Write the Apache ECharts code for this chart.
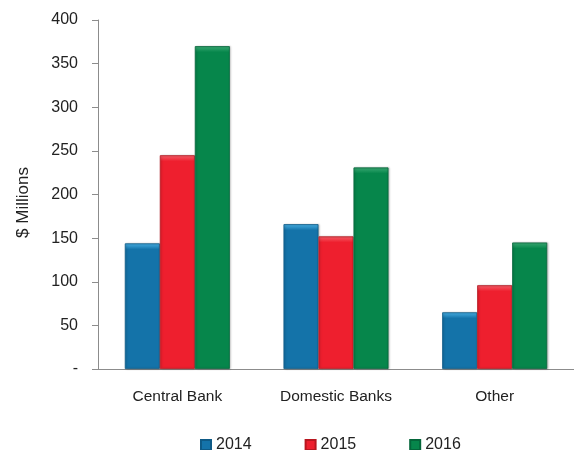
<!DOCTYPE html>
<html>
<head>
<meta charset="utf-8">
<script src="https://cdn.jsdelivr.net/npm/echarts@6/dist/echarts.min.js"></script>
<style>html,body{margin:0;padding:0;background:#fff}#c{width:574px;height:450px}</style>
</head>
<body>
<div id="c"></div>
<script>
const categories = ['Central Bank', 'Domestic Banks', 'Other'];
const seriesNames = ['2014', '2015', '2016'];
const values2014 = [144, 166, 65];
const values2015 = [245, 152, 96];
const values2016 = [370, 231, 145];
const yTicks = [0, 50, 100, 150, 200, 250, 300, 350, 400];
const colors = ['#1473A9', '#EE1F2E', '#06864B'];
const lights = ['#48B0E4', '#F6606A', '#3BAA74'];
const borders = ['#0E5A86', '#B8161F', '#04663A'];

const font = '"Liberation Sans", Arial, sans-serif';
const chart = echarts.init(document.getElementById('c'));
const dataSets = [values2014, values2015, values2016];
const plotH = 450 - 20 - 81;
function bevel(i, v) {
  const h = v / 400 * plotH;
  const s = Math.min(0.5, 6 / h);
  return new echarts.graphic.LinearGradient(0, 0, 0, 1, [
    { offset: 0, color: lights[i] },
    { offset: s, color: colors[i] },
    { offset: 1, color: colors[i] }
  ]);
}
chart.setOption({
  animation: false,
  grid: { left: 98, right: 0, top: 20, bottom: 81 },
  legend: {
    left: 195, top: 432,
    itemWidth: 10, itemHeight: 10, itemGap: 53,
    icon: 'rect',
    textStyle: { fontFamily: font, fontSize: 16, color: '#222' },
    data: seriesNames.map((n, i) => ({ name: n, itemStyle: { color: colors[i] } }))
  },
  xAxis: {
    type: 'category',
    data: categories,
    axisLine: { lineStyle: { color: '#8c8c8c', width: 1 } },
    axisTick: { length: 6, lineStyle: { color: '#8c8c8c' } },
    axisLabel: { fontFamily: font, fontSize: 15.5, color: '#222', margin: 20 }
  },
  yAxis: {
    type: 'value',
    min: 0, max: 400, interval: 50,
    name: '$ Millions',
    nameLocation: 'middle',
    nameGap: 66,
    nameTextStyle: { fontFamily: font, fontSize: 17, color: '#222', padding: [0, 16, 0, 0] },
    axisLine: { show: true, lineStyle: { color: '#8c8c8c', width: 1 } },
    axisTick: { show: true, length: 6, lineStyle: { color: '#8c8c8c' } },
    splitLine: { show: false },
    axisLabel: {
      fontFamily: font, fontSize: 16, color: '#222', margin: 20,
      formatter: v => (yTicks.includes(v) && v === 0) ? '-' : String(v)
    }
  },
  series: seriesNames.map((n, i) => ({
    name: n,
    type: 'bar',
    data: dataSets[i].map(v => ({ value: v, itemStyle: { color: bevel(i, v) } })),
    barWidth: 35,
    barGap: '0%',
    itemStyle: {
      color: colors[i],
      borderColor: borders[i],
      borderWidth: 0.8,
      shadowColor: 'rgba(0,0,0,0.25)',
      shadowBlur: 2,
      shadowOffsetX: 1
    }
  }))
});
</script>
</body>
</html>
